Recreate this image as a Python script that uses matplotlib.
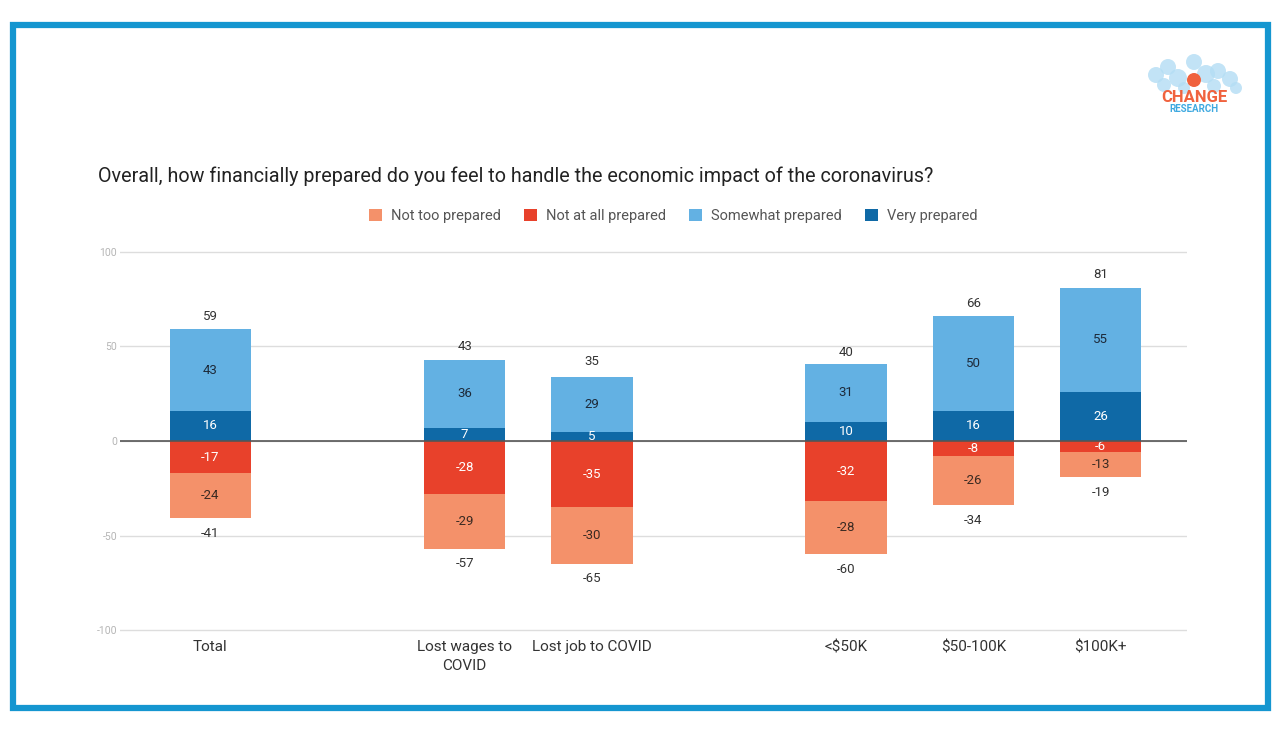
import matplotlib.pyplot as plt
from matplotlib.patches import Rectangle, Circle

plt.rcParams['font.family'] = ['Roboto', 'DejaVu Sans']

# data
categories = ["Total", "", "Lost wages to\nCOVID", "Lost job to COVID", "", "<$50K", "$50-100K", "$100K+"]
very = [16, 0, 7, 5, 0, 10, 16, 26]
somewhat = [43, 0, 36, 29, 0, 31, 50, 55]
not_at_all = [-17, 0, -28, -35, 0, -32, -8, -6]
not_too = [-24, 0, -29, -30, 0, -28, -26, -13]
pos_total = [59, None, 43, 35, None, 40, 66, 81]
neg_total = [-41, None, -57, -65, None, -60, -34, -19]

c_not_too = "#f4916a"
c_not_all = "#e8412b"
c_some = "#63b1e3"
c_very = "#0f69a6"

fig = plt.figure(figsize=(12.84, 7.30), dpi=100)
fig.patches.append(Rectangle((12.5 / 1284, 1 - 707.5 / 730), 1255 / 1284, 683 / 730,
                             transform=fig.transFigure, fill=False,
                             edgecolor="#1596d0", linewidth=4.5))

# 1.89 px per unit, y=0 at pixel 441
ax = fig.add_axes([120 / 1284, (730 - 631.9) / 730, 1067 / 1284, 381.8 / 730])
x = list(range(len(categories)))
w = 0.64

ax.bar(x, not_too, w, bottom=not_at_all, color=c_not_too, label="Not too prepared", zorder=2)
ax.bar(x, not_at_all, w, color=c_not_all, label="Not at all prepared", zorder=2)
ax.bar(x, somewhat, w, bottom=very, color=c_some, label="Somewhat prepared", zorder=2)
ax.bar(x, very, w, color=c_very, label="Very prepared", zorder=2)

for i in x:
    if pos_total[i] is None:
        continue
    ax.text(i, very[i] / 2, str(very[i]), ha="center", va="center", color="white", fontsize=9.5, zorder=3)
    ax.text(i, very[i] + somewhat[i] / 2, str(somewhat[i]), ha="center", va="center", color="#1d2a3a", fontsize=9.5, zorder=3)
    ax.text(i, not_at_all[i] / 2, str(not_at_all[i]), ha="center", va="center", color="white", fontsize=9.5, zorder=3)
    ax.text(i, not_at_all[i] + not_too[i] / 2, str(not_too[i]), ha="center", va="center", color="#3a2a22", fontsize=9.5, zorder=3)
    ax.text(i, pos_total[i] + 7, str(pos_total[i]), ha="center", va="center", color="#333333", fontsize=9.5)
    ax.text(i, neg_total[i] - 8, str(neg_total[i]), ha="center", va="center", color="#333333", fontsize=9.5)

ax.set_xlim(-0.71, 7.68)
ax.set_ylim(-101, 101)
ax.set_yticks([-100, -50, 0, 50, 100])
ax.set_yticklabels(["-100", "-50", "0", "50", "100"])
ax.tick_params(axis="y", length=0, labelsize=7.5, labelcolor="#b5b5b5", pad=2)
ax.set_xticks(x)
ax.set_xticklabels(categories, fontsize=11, color="#333333", linespacing=1.4)
ax.tick_params(axis="x", length=0, pad=6)
ax.grid(axis="y", color="#dddddd", linewidth=1, zorder=0)
ax.axhline(0, color="#555555", linewidth=1.2, zorder=4)
for s in ax.spines.values():
    s.set_visible(False)

fig.text(98 / 1284, 1 - 176 / 730, "Overall, how financially prepared do you feel to handle the economic impact of the coronavirus?",
         fontsize=14.2, color="#222222", ha="left", va="center")

handles, labels = ax.get_legend_handles_labels()
fig.legend(handles, labels, loc="center",
           bbox_to_anchor=(673 / 1284, 1 - 216 / 730), ncol=4, frameon=False,
           fontsize=10.5, labelcolor="#555555", handlelength=0.9, handleheight=0.9,
           handletextpad=0.6, columnspacing=1.6)

# logo
lax = fig.add_axes([1140 / 1284, 1 - 120 / 730, 110 / 1284, 70 / 730])
lax.set_xlim(0, 110)
lax.set_ylim(70, 0)
lax.set_aspect("equal")
lax.axis("off")
bubbles = [(16, 25, 8), (28, 17, 8), (38, 28, 9), (54, 12, 8), (66, 24, 9), (78, 21, 8),
           (90, 29, 8), (24, 35, 7), (74, 36, 7), (44, 38, 6), (96, 38, 6)]
for bx, by, br in bubbles:
    lax.add_patch(Circle((bx, by), br, color="#b3ddf4", alpha=0.8, linewidth=0))
lax.add_patch(Circle((54, 30), 7, color="#f0623e", linewidth=0))
lax.text(54, 47, "CHANGE", ha="center", va="center", color="#f0623e", fontsize=12, fontweight="bold")
lax.text(54, 59, "RESEARCH", ha="center", va="center", color="#3fa9e0", fontsize=7, fontweight="bold")

fig.savefig("out.png", dpi=100)
